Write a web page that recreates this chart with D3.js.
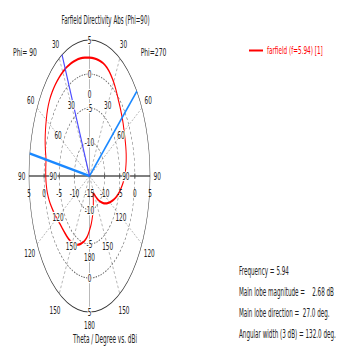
<!DOCTYPE html>
<html>
<head>
<meta charset="utf-8">
<script src="https://cdn.jsdelivr.net/npm/d3@7"></script>
<style>
  html, body { margin: 0; padding: 0; background: #fff; }
  svg { display: block; }
  text { font-family: "DejaVu Sans", "Noto Sans", sans-serif; }
</style>
</head>
<body>
<svg id="chart" width="339" height="349"></svg>
<script>
// Farfield directivity (dBi), Phi = 90 half-plane, theta in degrees
const thetaPhi90 = [0, 5, 10, 15, 20, 25, 27, 30, 35, 40, 45, 50, 55, 60, 65, 70, 75, 80, 85, 90,
  95, 100, 105, 110, 115, 120, 125, 130, 135, 140, 145, 150, 155, 160, 165, 170, 175, 180];
const dirPhi90 = [2.40, 2.47, 2.56, 2.62, 2.66, 2.68, 2.68, 2.67, 2.63, 2.56, 2.45, 2.28, 1.95, 1.50, 1.05, 0.60, 0.10, -0.40, -0.50, -0.55,
  -0.65, -0.85, -1.20, -1.65, -2.10, -2.50, -2.90, -3.15, -3.30, -3.40, -3.50, -3.65, -3.85, -4.25, -4.75, -5.30, -6.00, -7.00];

// Phi = 270 half-plane
const thetaPhi270 = [5, 10, 15, 20, 25, 30, 35, 40, 45, 50, 55, 60, 65, 70, 75, 80, 85, 90,
  95, 100, 105, 110, 115, 120, 125, 130, 135, 140, 145, 150, 155, 160, 165, 170, 175];
const dirPhi270 = [2.36, 2.30, 2.20, 1.95, 1.50, 0.95, 0.35, -0.25, -0.70, -1.10, -1.45, -1.80, -2.05, -2.25, -2.45, -2.70, -3.00, -3.35,
  -3.85, -4.45, -5.05, -5.75, -6.50, -7.25, -8.00, -8.75, -9.55, -10.35, -11.20, -11.90, -12.10, -11.30, -10.20, -9.10, -8.00];

// Radial (dB) grid and angular grid
const dbTicks = [5, 0, -5, -10];
const dbMin = -15, dbMax = 5;
const angleTicks = [30, 60, 90, 120, 150, 180];
const spokeAngles = [30, 60, 120, 150];

// Main lobe summary
const frequency = 5.94;
const mainLobeMag = 2.68;
const mainLobeDir = 27.0;
const beamEdges = [80.5, -51.5];   // -3 dB edges (Phi=90 side positive)
const angularWidth = 132.0;

const svg = d3.select("#chart");
const cx = 89.5, cy = 176, R = 136, sx = 0.445;
const rad = d3.scaleLinear().domain([dbMin, dbMax]).range([0, R]).clamp(true);
const toRad = d => d * Math.PI / 180;

// Plot geometry is drawn on a round grid, then squeezed horizontally
const plot = svg.append("g").attr("transform", `translate(${cx},${cy}) scale(${sx},1)`);
const px = (deg, r) => -r * Math.sin(toRad(deg));
const py = (deg, r) => -r * Math.cos(toRad(deg));
// screen position of a polar point
const sX = (deg, r) => cx + sx * px(deg, r);
const sY = (deg, r) => cy + py(deg, r);

// angular spokes
spokeAngles.forEach(a => {
  [a, -a].forEach(d => {
    plot.append("line")
      .attr("x1", 0).attr("y1", 0)
      .attr("x2", px(d, R)).attr("y2", py(d, R))
      .attr("stroke", "#9a9a9a").attr("stroke-width", 1)
      .attr("stroke-dasharray", "3,2.5");
  });
});

// dashed dB rings
dbTicks.slice(1).forEach(v => {
  plot.append("circle").attr("r", rad(v))
    .attr("fill", "none").attr("stroke", "#666").attr("stroke-width", 1.1)
    .attr("stroke-dasharray", "3,2.5");
});

// outer ring
plot.append("circle").attr("r", rad(dbMax))
  .attr("fill", "none").attr("stroke", "#333").attr("stroke-width", 1.05);

// vertical (0-180) axis
plot.append("line").attr("x1", 0).attr("x2", 0).attr("y1", -R).attr("y2", R)
  .attr("stroke", "#b0b0b0").attr("stroke-width", 2);

// horizontal (90-90) axis with ring ticks
plot.append("line").attr("x1", -R).attr("x2", R).attr("y1", 0).attr("y2", 0)
  .attr("stroke", "#000").attr("stroke-width", 1.2);
dbTicks.slice(1).forEach(v => {
  [-1, 1].forEach(s => {
    plot.append("line").attr("x1", s * rad(v)).attr("x2", s * rad(v))
      .attr("y1", -2.5).attr("y2", 2.5).attr("stroke", "#555").attr("stroke-width", 2);
  });
});

// directivity curve
const pts = thetaPhi270.map((t, i) => ({ a: -t, v: dirPhi270[i] }))
  .concat(thetaPhi90.map((t, i) => ({ a: t, v: dirPhi90[i] })))
  .sort((p, q) => p.a - q.a);
const curve = d3.line()
  .x(d => px(d.a, rad(d.v)))
  .y(d => py(d.a, rad(d.v)))
  .curve(d3.curveCatmullRomClosed.alpha(0.5));
plot.append("path").datum(pts).attr("d", curve)
  .attr("fill", "none").attr("stroke", "#ff0000").attr("stroke-width", 2.3);

// -3 dB beam edges and main lobe direction
beamEdges.forEach(d => {
  plot.append("line").attr("x1", 0).attr("y1", 0)
    .attr("x2", px(d, R)).attr("y2", py(d, R))
    .attr("stroke", "#1a88ff").attr("stroke-width", 2.6);
});
plot.append("line").attr("x1", 0).attr("y1", 0)
  .attr("x2", px(mainLobeDir, R)).attr("y2", py(mainLobeDir, R))
  .attr("stroke", "#4a4aff").attr("stroke-width", 2.4);

// text helper: narrow, horizontally squeezed lettering
function label(x, y, str, opts = {}) {
  const size = opts.size || 10.5, k = opts.k || 0.55;
  const t = svg.append("text")
    .attr("transform", `translate(${x},${y}) scale(${k},1)`)
    .attr("text-anchor", opts.anchor || "middle")
    .attr("dy", "0.36em")
    .style("font-size", size + "px")
    .attr("fill", opts.color || "#222")
    .style("white-space", "pre")
    .text(str);
  if (opts.halo) {
    t.attr("stroke", "#fff").attr("stroke-width", 2.5)
      .attr("paint-order", "stroke").attr("stroke-linejoin", "round");
  }
  return t;
}

// angle labels: outer ring and inner ring
angleTicks.forEach(a => {
  const sides = a === 180 ? [a] : [a, -a];
  const f = a === 180 ? 1.095 : (a > 90 ? 1.14 : 1.12);
  sides.forEach(d => {
    label(sX(d, R * f), sY(d, R * f), String(a));
    label(sX(d, R * 0.6), sY(d, R * 0.6), String(a), { halo: true });
  });
});
label(sX(0, R * 0.6), sY(0, R * 0.6), "0", { halo: true });

// dB labels along the vertical axis
dbTicks.forEach(v => {
  label(cx, cy - rad(v), String(v), { halo: true });
  label(cx, cy + rad(v), String(v), { halo: true });
});
// dB labels below the horizontal axis
dbTicks.forEach(v => {
  label(cx - sx * rad(v), cy + 17, String(v));
  label(cx + sx * rad(v), cy + 17, String(v));
});
label(cx, cy + 17, String(dbMin));

// titles
label(105.5, 20, "Farfield Directivity Abs (Phi=90)", { size: 11.5, k: 0.48 });
label(105, 339, "Theta / Degree vs. dBi", { size: 11.5, k: 0.5 });
label(25, 52, "Phi= 90", { size: 11, k: 0.55 });
label(153.5, 52, "Phi=270", { size: 11, k: 0.55 });

// legend
svg.append("line").attr("x1", 249).attr("x2", 263).attr("y1", 50.5).attr("y2", 50.5)
  .attr("stroke", "#ff0000").attr("stroke-width", 2);
label(267, 50.5, `farfield (f=${frequency}) [1]`, { size: 11, k: 0.52, anchor: "start", color: "#ff0000" });

// main lobe summary
const infoY = [271, 292, 313, 334];
const infoLines = [
  `Frequency = ${frequency}`,
  `Main lobe magnitude =    ${mainLobeMag.toFixed(2)} dB`,
  `Main lobe direction =  ${mainLobeDir.toFixed(1)} deg.`,
  `Angular width (3 dB) = ${angularWidth.toFixed(1)} deg.`
];
infoLines.forEach((s, i) => {
  label(239, infoY[i], s, { size: 11.5, k: 0.49, anchor: "start" });
});
</script>
</body>
</html>
